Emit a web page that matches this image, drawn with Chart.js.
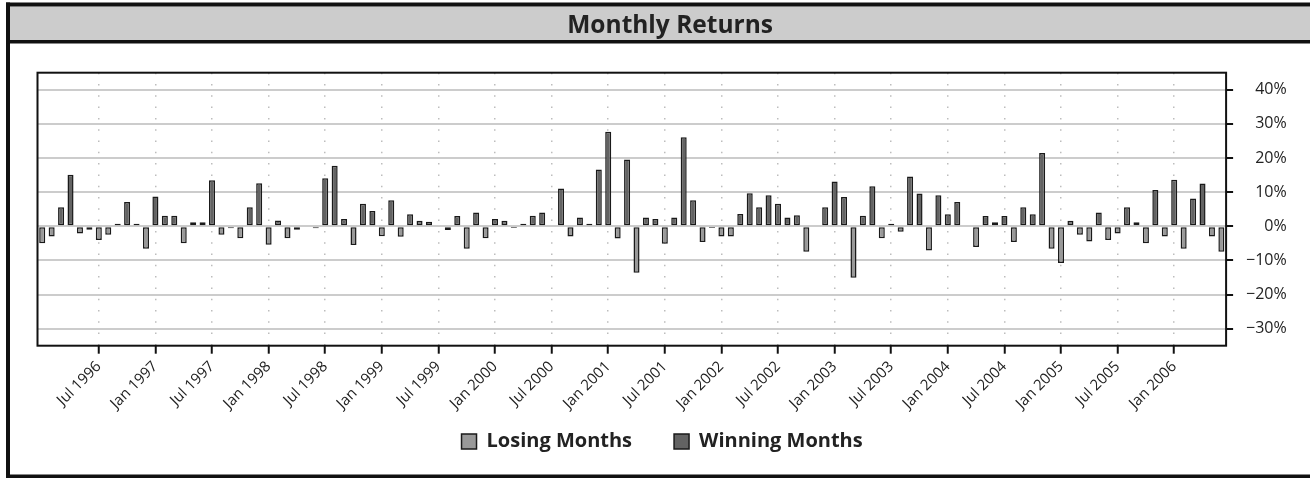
<!DOCTYPE html>
<html>
<head>
<meta charset="utf-8">
<script src="https://cdn.jsdelivr.net/npm/chart.js@4/dist/chart.umd.min.js"></script>
<style>
html,body{margin:0;padding:0;background:#fff;}
#wrap{width:1310px;height:478px;position:relative;}
</style>
</head>
<body>
<div id="wrap"><canvas id="c" width="1310" height="478"></canvas></div>
<script>
const months = [
'Jan 1996','Feb 1996','Mar 1996','Apr 1996','May 1996','Jun 1996','Jul 1996','Aug 1996','Sep 1996','Oct 1996','Nov 1996','Dec 1996',
'Jan 1997','Feb 1997','Mar 1997','Apr 1997','May 1997','Jun 1997','Jul 1997','Aug 1997','Sep 1997','Oct 1997','Nov 1997','Dec 1997',
'Jan 1998','Feb 1998','Mar 1998','Apr 1998','May 1998','Jun 1998','Jul 1998','Aug 1998','Sep 1998','Oct 1998','Nov 1998','Dec 1998',
'Jan 1999','Feb 1999','Mar 1999','Apr 1999','May 1999','Jun 1999','Jul 1999','Aug 1999','Sep 1999','Oct 1999','Nov 1999','Dec 1999',
'Jan 2000','Feb 2000','Mar 2000','Apr 2000','May 2000','Jun 2000','Jul 2000','Aug 2000','Sep 2000','Oct 2000','Nov 2000','Dec 2000',
'Jan 2001','Feb 2001','Mar 2001','Apr 2001','May 2001','Jun 2001','Jul 2001','Aug 2001','Sep 2001','Oct 2001','Nov 2001','Dec 2001',
'Jan 2002','Feb 2002','Mar 2002','Apr 2002','May 2002','Jun 2002','Jul 2002','Aug 2002','Sep 2002','Oct 2002','Nov 2002','Dec 2002',
'Jan 2003','Feb 2003','Mar 2003','Apr 2003','May 2003','Jun 2003','Jul 2003','Aug 2003','Sep 2003','Oct 2003','Nov 2003','Dec 2003',
'Jan 2004','Feb 2004','Mar 2004','Apr 2004','May 2004','Jun 2004','Jul 2004','Aug 2004','Sep 2004','Oct 2004','Nov 2004','Dec 2004',
'Jan 2005','Feb 2005','Mar 2005','Apr 2005','May 2005','Jun 2005','Jul 2005','Aug 2005','Sep 2005','Oct 2005','Nov 2005','Dec 2005',
'Jan 2006','Feb 2006','Mar 2006','Apr 2006','May 2006','Jun 2006'
];

// monthly returns in percent (0 = no bar)
const returns = [
-5.0,-3.0,5.6,15.1,-2.1,-1.0,-4.0,-2.5,0.7,7.1,0.7,-6.6,
8.7,3.1,3.1,-5.0,1.2,1.2,13.5,-2.5,-0.6,-3.5,5.6,12.6,
-5.4,1.7,-3.5,-1.0,0,-0.6,14.1,17.7,2.1,-5.5,6.6,4.5,
-2.9,7.6,-3.1,3.5,1.6,1.3,0,-1.1,3.0,-6.6,4.0,-3.5,
2.1,1.6,-0.5,0.7,3.1,4.0,0,11.1,-3.0,2.6,0.7,16.6,
27.7,-3.6,19.6,-13.6,2.6,2.1,-5.1,2.6,26.1,7.6,-4.6,-0.5,
-3.0,-3.0,3.6,9.7,5.6,9.1,6.6,2.6,3.2,-7.5,0,5.6,
13.1,8.6,-15.1,3.1,11.7,-3.5,0.7,-1.6,14.6,9.6,-7.1,9.1,
3.5,7.1,0,-6.1,3.0,1.2,3.0,-4.6,5.6,3.5,21.5,-6.6,
-10.8,1.6,-2.5,-4.5,4.0,-4.0,-2.1,5.6,1.2,-5.0,10.6,-3.0,
13.6,-6.6,8.1,12.5,-3.0,-7.5
];

const tickLabels = [
'Jul 1996','Jan 1997','Jul 1997','Jan 1998','Jul 1998','Jan 1999','Jul 1999','Jan 2000','Jul 2000','Jan 2001',
'Jul 2001','Jan 2002','Jul 2002','Jan 2003','Jul 2003','Jan 2004','Jul 2004','Jan 2005','Jul 2005','Jan 2006'
];
const yTickValues = [-30,-20,-10,0,10,20,30,40];
const seriesNames = ['Losing Months','Winning Months'];
const titleText = 'Monthly Returns';

const losing = returns.map(v => v < 0 ? v : null);
const winning = returns.map(v => v > 0 ? v : null);
const tickIndices = tickLabels.map(l => months.indexOf(l));

const FONT = "'Open Sans', 'Noto Sans', sans-serif";

const framePlugin = {
  id: 'frame',
  afterLayout(chart) {
    // centre the title over the whole framed panel (which runs past the right edge)
    if (chart.titleBlock) { chart.titleBlock.left += 8; chart.titleBlock.right += 8; }
  },
  beforeDraw(chart) {
    const ctx = chart.ctx;
    ctx.save();
    ctx.fillStyle = '#ffffff';
    ctx.fillRect(0, 0, chart.width, chart.height);
    ctx.fillStyle = '#cccccc';
    ctx.fillRect(10, 6.5, chart.width - 10, 33.5);
    ctx.fillStyle = '#111111';
    ctx.fillRect(6, 2.5, chart.width - 6, 4);
    ctx.fillRect(6, 2.5, 4, chart.height - 2.5);
    ctx.fillRect(6, 40, chart.width - 6, 3.5);
    ctx.fillRect(6, chart.height - 3.5, chart.width - 6, 3.5);
    ctx.restore();
  },
  afterDatasetsDraw(chart) {
    const a = chart.chartArea;
    const ctx = chart.ctx;
    ctx.save();
    ctx.strokeStyle = '#111111';
    ctx.lineWidth = 2;
    ctx.strokeRect(a.left, a.top, a.right - a.left, a.bottom - a.top);
    ctx.restore();
  }
};

new Chart(document.getElementById('c'), {
  type: 'bar',
  data: {
    labels: months,
    datasets: [
      { label: seriesNames[0], data: losing, backgroundColor: '#999999', borderColor: '#1a1a1a', borderWidth: 1.5, borderSkipped: false },
      { label: seriesNames[1], data: winning, backgroundColor: '#636363', borderColor: '#1a1a1a', borderWidth: 1.5, borderSkipped: false }
    ]
  },
  options: {
    responsive: false,
    animation: false,
    devicePixelRatio: 1,
    events: [],
    categoryPercentage: 1,
    barPercentage: 0.64,
    layout: { padding: { left: 37.5, right: 23.3, top: 0, bottom: 16.5 } },
    plugins: {
      title: {
        display: true, text: titleText, color: '#222222',
        font: { family: FONT, size: 24.5, weight: 'bold' },
        padding: { top: 11, bottom: 32.3 }
      },
      legend: {
        display: true, position: 'bottom',
        labels: {
          color: '#222222', font: { family: FONT, size: 20, weight: 'bold' },
          boxWidth: 15, boxHeight: 15, padding: 42
        }
      },
      tooltip: { enabled: false }
    },
    scales: {
      x: {
        stacked: true,
        offset: true,
        afterBuildTicks: s => { s.ticks = tickIndices.map(i => ({ value: i })); },
        afterFit: s => { s.height = 43.8; s._computeLabelArea = () => undefined; },
        grid: {
          display: true, offset: false, drawOnChartArea: true, drawTicks: true,
          color: '#bdbdbd', lineWidth: 1.5, tickColor: '#111111', tickLength: 8, tickWidth: 2
        },
        border: { display: false, dash: [1.5, 9.8] },
        ticks: {
          autoSkip: false, minRotation: 45, maxRotation: 45, padding: 4,
          color: '#222222', font: { family: FONT, size: 15 },
          callback: function(v) { return months[v]; }
        }
      },
      y: {
        position: 'right',
        stacked: true,
        min: -35, max: 45,
        afterBuildTicks: s => { s.ticks = yTickValues.map(v => ({ value: v })); },
        afterFit: s => { s.width = 60.6; },
        grid: { color: '#cccccc', lineWidth: 2, tickColor: '#111111', tickLength: 7, tickWidth: 2 },
        border: { display: false },
        ticks: {
          crossAlign: 'far', padding: 17,
          color: '#222222', font: { family: FONT, size: 16 },
          callback: v => (v < 0 ? '\u2212' + Math.abs(v) : String(v)) + '%'
        }
      }
    }
  },
  plugins: [framePlugin]
});
</script>
</body>
</html>
